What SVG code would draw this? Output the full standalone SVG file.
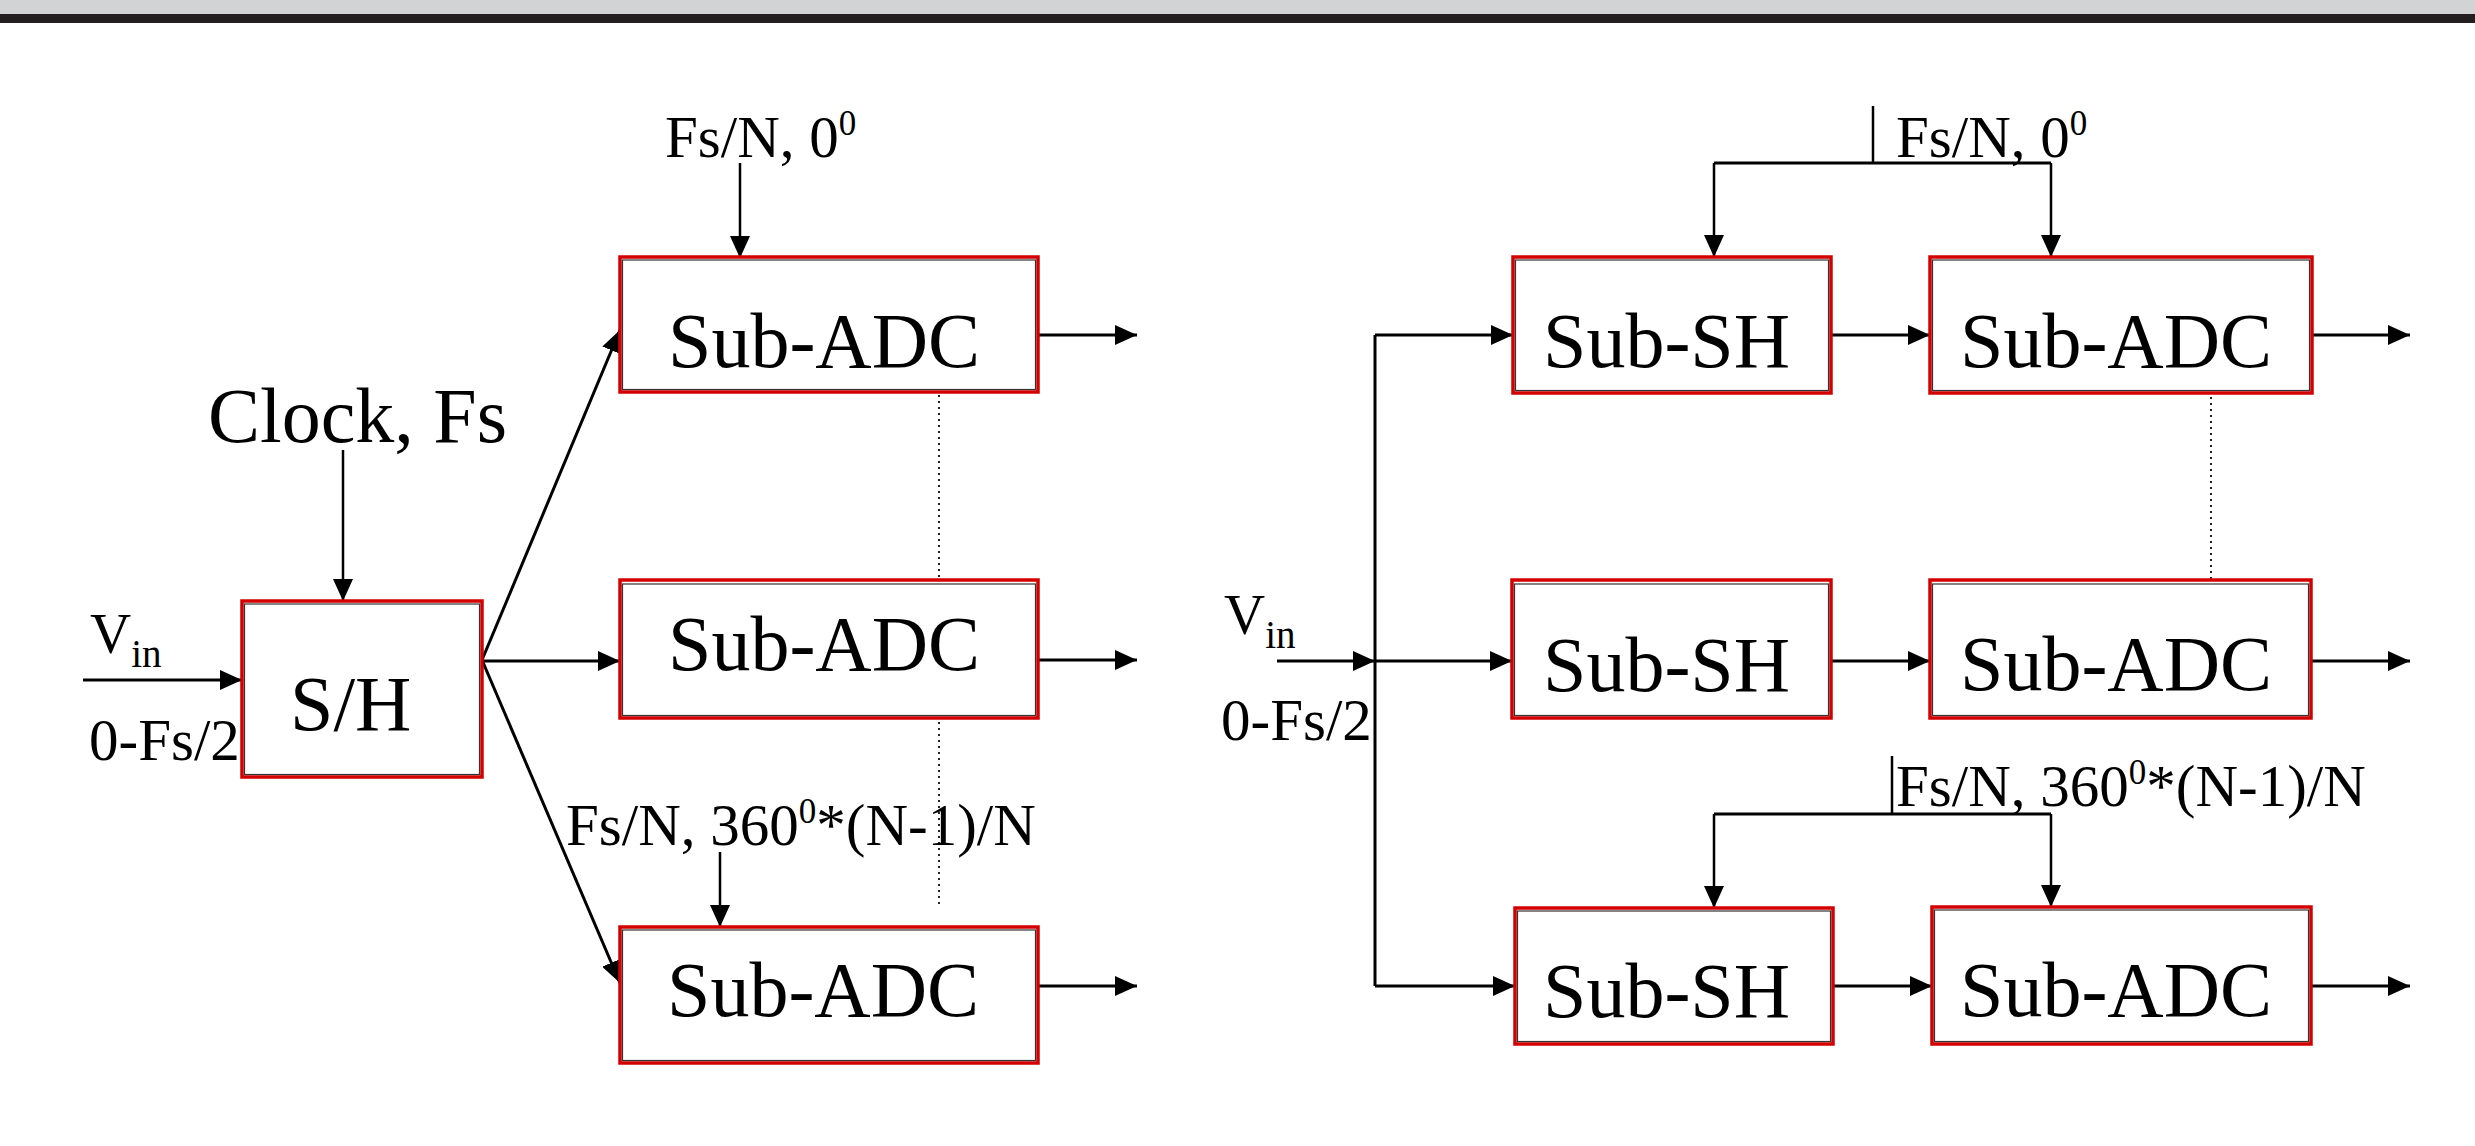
<svg xmlns="http://www.w3.org/2000/svg" width="2475" height="1146" viewBox="0 0 2475 1146">
<defs>
<marker id="ah" viewBox="0 0 22 20" markerUnits="userSpaceOnUse" markerWidth="22" markerHeight="20" refX="22" refY="10" orient="auto">
<path d="M0,0 L22,10 L0,20 Z" fill="#000"/>
</marker>
</defs>
<style>
.box{fill:#fff;stroke:#d40000;stroke-width:3.5}
.inner{fill:none;stroke:#333;stroke-width:1.2}
.lbl{font-family:"Liberation Serif","Times New Roman",serif;fill:#000}
.big{font-size:78px}
.mid{font-size:59px}
.sup{font-size:35px}
.w{fill:none;stroke:#000;stroke-width:3}
.t{fill:none;stroke:#000;stroke-width:2.5}
.a{marker-end:url(#ah)}
.dot{fill:none;stroke:#222;stroke-width:2;stroke-dasharray:2 4}
</style>
<rect x="0" y="0" width="2475" height="1146" fill="#fff"/>
<rect x="0" y="0" width="2475" height="14" fill="#d2d3d5"/>
<rect x="0" y="14" width="2475" height="9" fill="#231f20"/>

<g id="connectors">
<line class="t a" x1="343" y1="450" x2="343" y2="601"/>
<line class="w a" x1="83" y1="680" x2="242" y2="680"/>
<line class="w a" x1="482" y1="660" x2="620" y2="330"/>
<line class="w a" x1="482" y1="661" x2="620" y2="661"/>
<line class="w a" x1="482" y1="660" x2="620" y2="983"/>
<line class="t a" x1="740" y1="163" x2="740" y2="258"/>
<line class="t a" x1="720" y1="852" x2="720" y2="927"/>
<line class="w a" x1="1038" y1="335" x2="1137" y2="335"/>
<line class="w a" x1="1038" y1="660" x2="1137" y2="660"/>
<line class="w a" x1="1038" y1="986" x2="1137" y2="986"/>
<line class="dot" x1="939" y1="395" x2="939" y2="580"/>
<line class="dot" x1="939" y1="722" x2="939" y2="907"/>
<line class="w a" x1="1277" y1="661" x2="1375" y2="661"/>
<line class="w" x1="1375" y1="335" x2="1375" y2="986"/>
<line class="w a" x1="1375" y1="335" x2="1513" y2="335"/>
<line class="w a" x1="1375" y1="661" x2="1512" y2="661"/>
<line class="w a" x1="1375" y1="986" x2="1515" y2="986"/>
<line class="w a" x1="1831" y1="335" x2="1930" y2="335"/>
<line class="w a" x1="1831" y1="661" x2="1930" y2="661"/>
<line class="w a" x1="1833" y1="986" x2="1932" y2="986"/>
<line class="w a" x1="2312" y1="335" x2="2410" y2="335"/>
<line class="w a" x1="2311" y1="661" x2="2410" y2="661"/>
<line class="w a" x1="2311" y1="986" x2="2410" y2="986"/>
<line class="t" x1="1873" y1="106" x2="1873" y2="163"/>
<path class="w" d="M1714,163 H2051"/>
<line class="t a" x1="1714" y1="163" x2="1714" y2="257"/>
<line class="t a" x1="2051" y1="163" x2="2051" y2="257"/>
<line class="t" x1="1892" y1="756" x2="1892" y2="814"/>
<path class="w" d="M1714,814 H2051"/>
<line class="t a" x1="1714" y1="814" x2="1714" y2="908"/>
<line class="t a" x1="2051" y1="814" x2="2051" y2="907"/>
<line class="dot" x1="2211" y1="397" x2="2211" y2="580"/>
</g>

<g id="sh">
<rect class="box" x="242" y="601" width="240" height="176"/>
<rect class="inner" x="244.5" y="604" width="235" height="170.5"/>
<text class="lbl big" x="290" y="730">S/H</text>
</g>
<g id="adc-l1">
<rect class="box" x="620" y="257" width="418" height="135"/>
<rect class="inner" x="622.5" y="260" width="413" height="129.5"/>
<text class="lbl big" x="668" y="367">Sub-ADC</text>
</g>
<g id="adc-l2">
<rect class="box" x="620" y="580" width="418" height="138"/>
<rect class="inner" x="622.5" y="584" width="413" height="131.5"/>
<text class="lbl big" x="668" y="670">Sub-ADC</text>
</g>
<g id="adc-l3">
<rect class="box" x="620" y="927" width="418" height="136"/>
<rect class="inner" x="622.5" y="930" width="413" height="130.5"/>
<text class="lbl big" x="667" y="1016">Sub-ADC</text>
</g>

<g id="sh-r1">
<rect class="box" x="1513" y="257" width="318" height="136"/>
<rect class="inner" x="1515.5" y="260" width="313" height="130.5"/>
<text class="lbl big" x="1543" y="367">Sub-SH</text>
</g>
<g id="sh-r2">
<rect class="box" x="1512" y="580" width="319" height="138"/>
<rect class="inner" x="1514.5" y="584" width="314" height="131.5"/>
<text class="lbl big" x="1543" y="691">Sub-SH</text>
</g>
<g id="sh-r3">
<rect class="box" x="1515" y="908" width="318" height="136"/>
<rect class="inner" x="1517.5" y="911" width="313" height="130.5"/>
<text class="lbl big" x="1543" y="1017">Sub-SH</text>
</g>
<g id="adc-r1">
<rect class="box" x="1930" y="257" width="382" height="136"/>
<rect class="inner" x="1932.5" y="260" width="377" height="130.5"/>
<text class="lbl big" x="1960" y="367">Sub-ADC</text>
</g>
<g id="adc-r2">
<rect class="box" x="1930" y="580" width="381" height="138"/>
<rect class="inner" x="1932.5" y="584" width="376" height="131.5"/>
<text class="lbl big" x="1960" y="690">Sub-ADC</text>
</g>
<g id="adc-r3">
<rect class="box" x="1932" y="907" width="379" height="137"/>
<rect class="inner" x="1934.5" y="910" width="374" height="131.5"/>
<text class="lbl big" x="1960" y="1016">Sub-ADC</text>
</g>

<g id="labels">
<text class="lbl big" x="208" y="442">Clock, Fs</text>
<text class="lbl" x="90" y="653" font-size="57">V<tspan font-size="39" dy="14">in</tspan></text>
<text class="lbl mid" x="89" y="760">0-Fs/2</text>
<text class="lbl mid" x="665" y="157">Fs/N, 0<tspan class="sup" dy="-22">0</tspan></text>
<text class="lbl mid" x="566" y="845">Fs/N, 360<tspan class="sup" dy="-22">0</tspan><tspan dy="22">*(N-1)/N</tspan></text>
<text class="lbl" x="1224" y="634" font-size="57">V<tspan font-size="39" dy="14">in</tspan></text>
<text class="lbl mid" x="1221" y="740">0-Fs/2</text>
<text class="lbl mid" x="1896" y="157">Fs/N, 0<tspan class="sup" dy="-22">0</tspan></text>
<text class="lbl mid" x="1896" y="806">Fs/N, 360<tspan class="sup" dy="-22">0</tspan><tspan dy="22">*(N-1)/N</tspan></text>
</g>
</svg>
